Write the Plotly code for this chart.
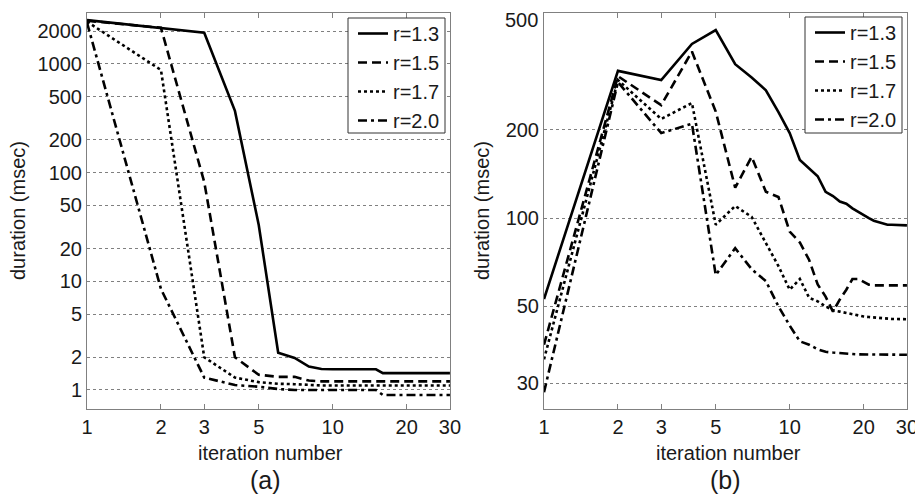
import plotly.graph_objects as go
import math

iterations = list(range(1, 31))
series_names = ["r=1.3", "r=1.5", "r=1.7", "r=2.0"]

# Panel (a) durations (msec)
a_r13 = [2530, 2150, 1940, 370, 33, 2.2, 1.97, 1.64, 1.56, 1.55, 1.55, 1.55, 1.55, 1.55, 1.55,
         1.43, 1.43, 1.43, 1.43, 1.43, 1.43, 1.43, 1.43, 1.43, 1.43, 1.43, 1.43, 1.43, 1.43, 1.43]
a_r15 = [2500, 2150, 82, 2.0, 1.38, 1.32, 1.32, 1.22, 1.2, 1.2, 1.2, 1.2, 1.2, 1.2, 1.2,
         1.2, 1.2, 1.2, 1.2, 1.2, 1.2, 1.2, 1.2, 1.2, 1.2, 1.2, 1.2, 1.2, 1.2, 1.2]
a_r17 = [2450, 880, 2.0, 1.3, 1.18, 1.14, 1.13, 1.11, 1.1, 1.1, 1.1, 1.1, 1.1, 1.1, 1.1,
         1.1, 1.1, 1.1, 1.1, 1.1, 1.1, 1.1, 1.1, 1.1, 1.1, 1.1, 1.1, 1.1, 1.1, 1.1]
a_r20 = [2400, 8.5, 1.3, 1.11, 1.07, 1.02, 1.0, 1.0, 1.0, 1.0, 1.0, 1.0, 1.0, 1.0, 1.0,
         0.9, 0.9, 0.9, 0.9, 0.9, 0.9, 0.9, 0.9, 0.9, 0.9, 0.9, 0.9, 0.9, 0.9, 0.9]

# Panel (b) durations (msec)
b_r13 = [53, 318, 296, 393, 438, 335, 302, 273, 230, 195, 158, 148, 139, 123, 119,
         114, 112, 108, 105, 102, 100, 98, 97, 96, 95, 95, 95, 95, 94.5, 94.5]
b_r15 = [37, 305, 243, 370, 231, 127, 162, 123, 118, 90, 82.6, 72, 59.4, 54, 48,
         52.8, 57, 62, 62, 60.5, 59.3, 59, 59, 59, 59, 59, 59, 59, 59, 59]
b_r17 = [33, 296, 218, 247, 95, 110, 101, 82.6, 68.6, 57, 62, 53.5, 52, 50, 48.5,
         48, 47.5, 47, 46.5, 46.2, 46, 45.8, 45.6, 45.5, 45.4, 45.3, 45.3, 45.2, 45.2, 45.2]
b_r20 = [25.5, 291, 195, 210, 64, 79, 67, 61, 50, 43, 38, 37, 35.7, 35, 34.8,
         34.6, 34.5, 34.4, 34.3, 34.3, 34.2, 34.2, 34.2, 34.2, 34.2, 34.2, 34.2, 34.2, 34.2, 34.2]

x_ticks = [1, 2, 3, 5, 10, 20, 30]
a_yticks = [1, 2, 5, 10, 20, 50, 100, 200, 500, 1000, 2000]
b_yticks = [27.3, 50, 100, 200, 500]
b_yticktext = ["30", "50", "100", "200", ""]   # top label "500" placed just inside the page edge
b_top_label = "500"

dashes = ["solid", "9px,5px", "3px,3px", "9px,4px,3px,4px"]
FONT = "Liberation Sans, Arial, sans-serif"
OFF = 8  # page body margin
W, H = 923 - OFF, 502 - OFF


def px(xp):
    return (xp - OFF) / W


def py(yp):
    return 1 - (yp - OFF) / H


fig = go.Figure()
for i, (name, ys, d) in enumerate(zip(series_names, [a_r13, a_r15, a_r17, a_r20], dashes)):
    fig.add_trace(go.Scatter(x=iterations, y=ys, mode="lines", name=name,
                             legendgroup=f"a{i}",
                             line=dict(color="black", width=2.6, dash=d),
                             xaxis="x", yaxis="y", legend="legend"))
for i, (name, ys, d) in enumerate(zip(series_names, [b_r13, b_r15, b_r17, b_r20], dashes)):
    fig.add_trace(go.Scatter(x=iterations, y=ys, mode="lines", name=name,
                             legendgroup=f"b{i}",
                             line=dict(color="black", width=2.6, dash=d),
                             xaxis="x2", yaxis="y2", legend="legend2"))

ydom = [py(409), py(13)]
axis_common = dict(type="log", showline=True, linecolor="#808080", linewidth=1,
                   tickfont=dict(family=FONT, size=20, color="#1a1a1a"),
                   ticklabeloverflow="allow")
xcommon = dict(axis_common, range=[0, math.log10(30.02)], tickvals=x_ticks,
               ticktext=[str(v) for v in x_ticks], ticks="inside", ticklen=5,
               tickcolor="#808080", mirror="ticks", showgrid=False, automargin=False)
ycommon = dict(axis_common, ticks="", mirror=True, showgrid=True, gridcolor="#808080",
               griddash="dot", gridwidth=1, automargin=False)

legend_common = dict(bgcolor="rgba(0,0,0,0)", borderwidth=0,
                     font=dict(family=FONT, size=20, color="#1a1a1a"),
                     xanchor="right", yanchor="top", tracegroupgap=0)

fig.update_layout(
    width=W, height=H,
    margin=dict(l=0, r=0, t=0, b=0),
    paper_bgcolor="white", plot_bgcolor="white",
    showlegend=True,
    xaxis=dict(xcommon, domain=[px(87), px(450)], anchor="y"),
    yaxis=dict(ycommon, domain=ydom, anchor="x",
               range=[math.log10(0.668), math.log10(2944)],
               tickvals=a_yticks, ticktext=[str(v) for v in a_yticks]),
    xaxis2=dict(xcommon, domain=[px(544), px(907)], anchor="y2"),
    yaxis2=dict(ycommon, domain=ydom, anchor="x2",
                range=[1.349, math.log10(501)],
                tickvals=b_yticks, ticktext=b_yticktext),
    legend=dict(legend_common, x=px(445), y=py(14)),
    legend2=dict(legend_common, x=px(902), y=py(13)),
)

# legend frames
for (x0, y0, x1, y1) in [(348, 18, 445, 133), (805, 17, 902, 133)]:
    fig.add_shape(type="rect", xref="paper", yref="paper",
                  x0=px(x0), x1=px(x1), y0=py(y1), y1=py(y0),
                  fillcolor="white", line=dict(color="#333333", width=1), layer="above")

annots = [
    dict(text="iteration number", x=270, y=453, size=20, angle=0, xa="center", ya="middle"),
    dict(text="iteration number", x=728, y=453, size=20, angle=0, xa="center", ya="middle"),
    dict(text="(a)", x=265, y=480, size=25, angle=0, xa="center", ya="middle"),
    dict(text="(b)", x=725, y=480, size=25, angle=0, xa="center", ya="middle"),
    dict(text="duration (msec)", x=18, y=211, size=20, angle=-90, xa="center", ya="middle"),
    dict(text="duration (msec)", x=482, y=211, size=20, angle=-90, xa="center", ya="middle"),
    dict(text=b_top_label, x=539, y=8, size=20, angle=0, xa="right", ya="top"),
]
for a in annots:
    fig.add_annotation(text=a["text"], x=px(a["x"]), y=py(a["y"]), xref="paper", yref="paper",
                       xanchor=a["xa"], yanchor=a["ya"], showarrow=False,
                       textangle=a["angle"], borderpad=0,
                       font=dict(family=FONT, size=a["size"], color="#1a1a1a"))

fig.write_html("out.html")
